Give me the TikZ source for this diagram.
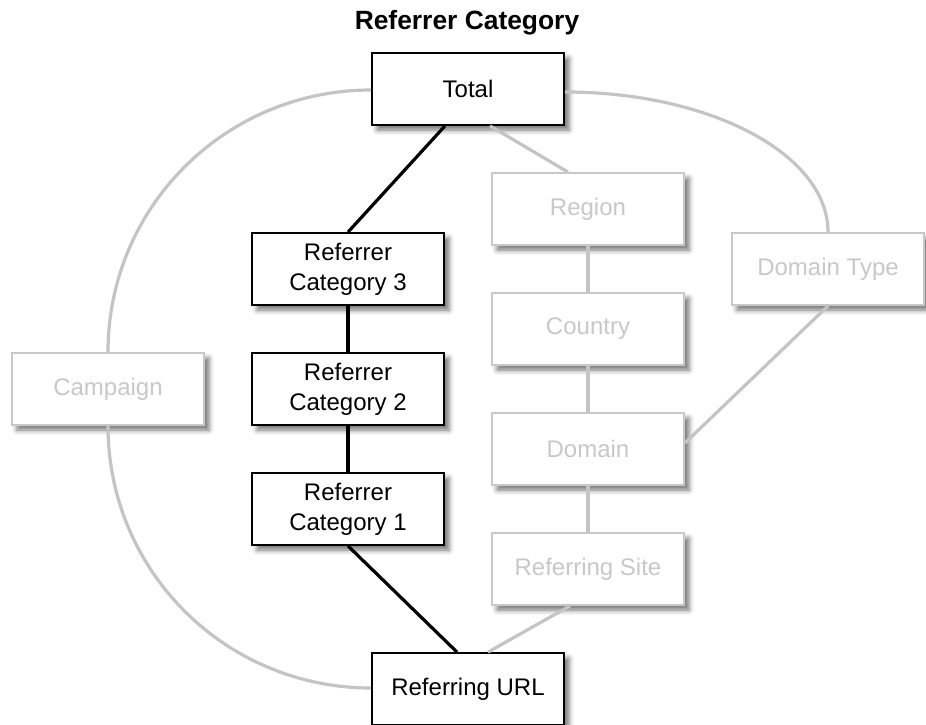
\documentclass[tikz,border=0pt]{standalone}
\usepackage{fontspec}
\setmainfont{Liberation Sans}
\usetikzlibrary{calc,shadows.blur}
\definecolor{lgray}{RGB}{200,200,200}
\definecolor{lline}{RGB}{196,196,196}
\tikzset{
  boxbase/.style={rectangle, minimum width=192pt, minimum height=72pt, inner sep=0pt,
    align=center, fill=white, font=\fontsize{24}{30}\selectfont,
    blur shadow={shadow xshift=5pt, shadow yshift=-5pt, shadow blur radius=5pt, shadow opacity=55}},
  darkbox/.style={boxbase, draw=black, line width=1.8pt, text=black},
  lightbox/.style={boxbase, draw=lgray, line width=1.8pt, text=lgray},
  darkline/.style={draw=black, line width=3.2pt},
  lightline/.style={draw=lline, line width=3.2pt}
}
\begin{document}
\begin{tikzpicture}[x=1pt,y=-1pt]
\useasboundingbox (0,0) rectangle (926,725);
\node[font=\fontsize{26.4}{30}\selectfont\bfseries] (title) at (467,23) {Referrer Category};
\node[darkbox] (total) at (468,89) {Total};
\node[darkbox] (rc3) at (348,269) {Referrer\\Category 3};
\node[darkbox] (rc2) at (348,389) {Referrer\\Category 2};
\node[darkbox] (rc1) at (348,509) {Referrer\\Category 1};
\node[darkbox] (refurl) at (468,689) {Referring URL};
\node[lightbox] (region) at (588,209) {Region};
\node[lightbox] (country) at (588,329) {Country};
\node[lightbox] (domain) at (588,449) {Domain};
\node[lightbox] (refsite) at (588,569) {Referring Site};
\node[lightbox] (dtype) at (828,269) {Domain Type};
\node[lightbox] (campaign) at (108,389) {Campaign};
% gray connectors
\draw[lightline] ($(total.south)+(22,0)$) -- ($(region.north)+(-20,0)$);
\draw[lightline] (region) -- (country);
\draw[lightline] (country) -- (domain);
\draw[lightline] (domain) -- (refsite);
\draw[lightline] ($(refsite.south)+(-18,0)$) -- ($(refurl.north)+(20,0)$);
\draw[lightline] (dtype.south) -- ($(domain.east)+(0,-6)$);
\draw[lightline] ($(total.east)+(0,3)$) .. controls ($(total.east)+(145,3)$) and ($(dtype.north)+(0,-78)$) .. (dtype.north);
\draw[lightline] ($(total.west)+(0,1)$) .. controls ($(total.west)+(-146,1)$) and ($(campaign.north)+(0,-145)$) .. (campaign.north);
\draw[lightline] (campaign.south) .. controls ($(campaign.south)+(0,145)$) and ($(refurl.west)+(-146,-1)$) .. ($(refurl.west)+(0,-1)$);
% black connectors
\draw[darkline] ($(total.south)+(-23,0)$) -- (rc3.north);
\draw[darkline] (rc3) -- (rc2);
\draw[darkline] (rc2) -- (rc1);
\draw[darkline] (rc1.south) -- ($(refurl.north)+(-11,0)$);
\end{tikzpicture}
\end{document}
